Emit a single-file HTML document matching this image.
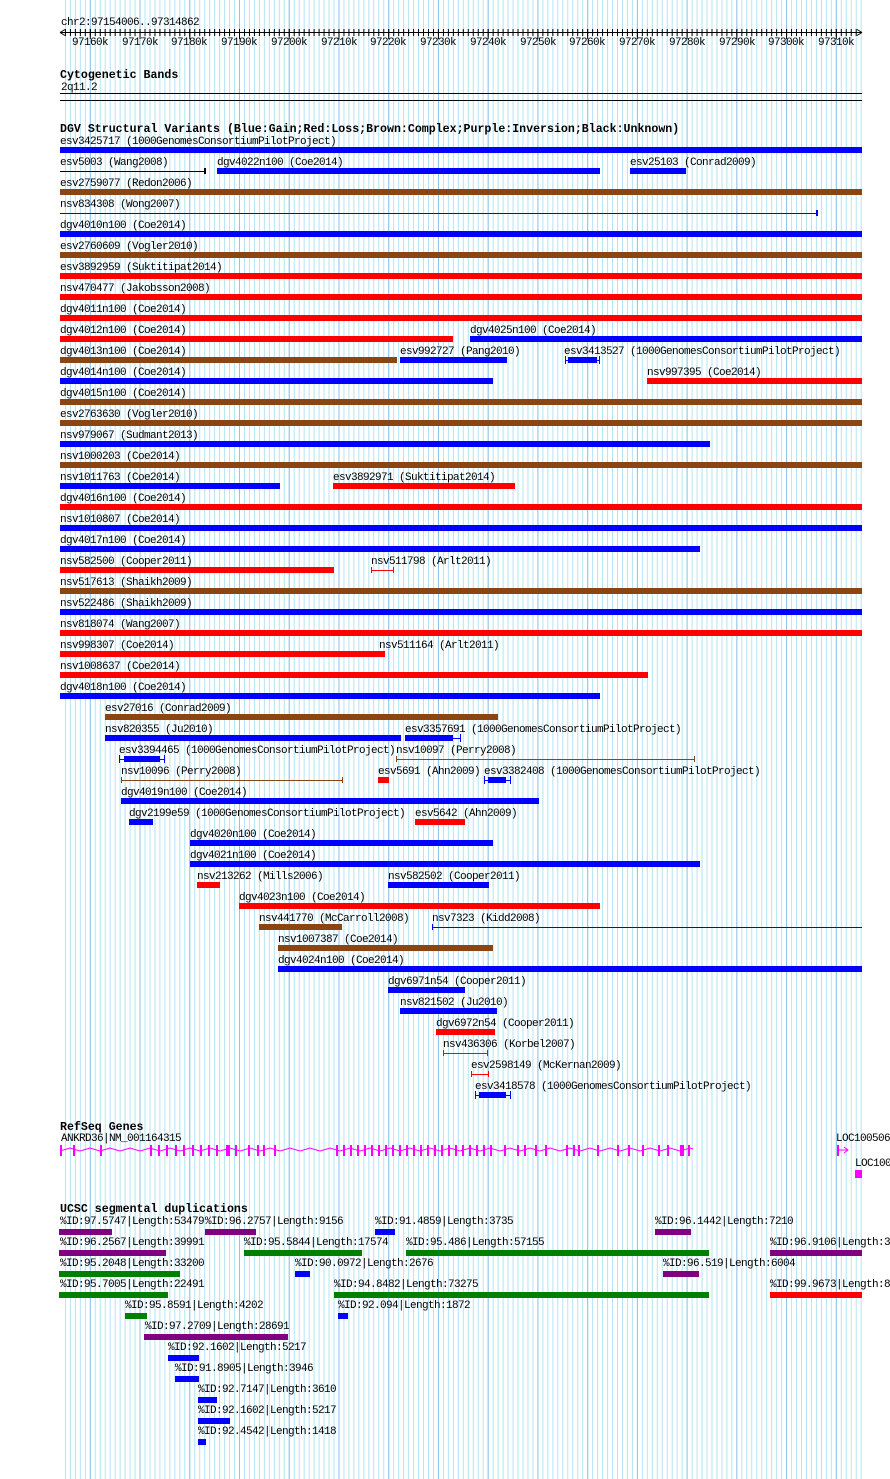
<!DOCTYPE html>
<html><head><meta charset="utf-8"><style>
html,body{margin:0;padding:0;background:#fff;}
svg{display:block;}
text{font-family:"Liberation Mono",monospace;font-size:11px;letter-spacing:-0.6px;fill:#000;}
.b{font-weight:bold;font-size:11.6px;letter-spacing:0;}
</style></head><body>
<svg width="890" height="1479" viewBox="0 0 890 1479" xmlns="http://www.w3.org/2000/svg">
<defs>
<pattern id="g1" x="64.94" y="0" width="4.9734" height="10" patternUnits="userSpaceOnUse"><rect x="0" y="0" width="1" height="10" fill="#b4e4f4"/></pattern>
<pattern id="g2" x="89.8" y="0" width="49.734" height="10" patternUnits="userSpaceOnUse"><rect x="0" y="0" width="1" height="10" fill="#8cc4ec"/></pattern>
<pattern id="tk" x="64.94" y="0" width="4.9734" height="60" patternUnits="userSpaceOnUse"><rect x="0" y="29" width="1" height="7" fill="#000"/></pattern>
<pattern id="tk2" x="89.8" y="0" width="49.734" height="60" patternUnits="userSpaceOnUse"><rect x="0" y="29" width="1" height="10" fill="#000"/></pattern>
<pattern id="zz" x="60" y="0" width="20" height="1200" patternUnits="userSpaceOnUse"><path d="M0 1151 L10 1148 L20 1151" stroke="#ff00ff" fill="none" stroke-width="1"/></pattern>
</defs>
<rect x="62" y="0" width="800" height="1479" fill="url(#g1)"/>
<rect x="62" y="0" width="800" height="1479" fill="url(#g2)"/>

<text x="61" y="25">chr2:97154006..97314862</text>
<rect x="60" y="32" width="802" height="1" fill="#000"/>
<rect x="62" y="0" width="798" height="60" fill="url(#tk)"/>
<rect x="62" y="0" width="798" height="60" fill="url(#tk2)"/>
<path d="M60 32.5 L65 29.5 M60 32.5 L65 35.5 M862 32.5 L857 29.5 M862 32.5 L857 35.5" stroke="#000"/>
<g text-anchor="middle">
<text x="90" y="45">97160k</text><text x="140" y="45">97170k</text><text x="189" y="45">97180k</text><text x="239" y="45">97190k</text><text x="289" y="45">97200k</text><text x="339" y="45">97210k</text><text x="388" y="45">97220k</text><text x="438" y="45">97230k</text><text x="488" y="45">97240k</text><text x="538" y="45">97250k</text><text x="587" y="45">97260k</text><text x="637" y="45">97270k</text><text x="687" y="45">97280k</text><text x="737" y="45">97290k</text><text x="786" y="45">97300k</text><text x="836" y="45">97310k</text>
</g>

<text class="b" x="60" y="78">Cytogenetic Bands</text>
<text x="61" y="90">2q11.2</text>
<rect x="60" y="93" width="802" height="1" fill="#000"/>
<rect x="60" y="100" width="802" height="1" fill="#000"/>

<text class="b" x="60" y="132">DGV Structural Variants (Blue:Gain;Red:Loss;Brown:Complex;Purple:Inversion;Black:Unknown)</text>
<g>
<text x="60" y="144">esv3425717 (1000GenomesConsortiumPilotProject)</text><rect x="60" y="147" width="802" height="6" fill="#0000ff"/>
<text x="60" y="165">esv5003 (Wang2008)</text><rect x="60" y="171" width="145" height="1" fill="#000"/><rect x="204" y="168" width="2" height="6" fill="#000"/>
<text x="217" y="165">dgv4022n100 (Coe2014)</text><rect x="217" y="168" width="383" height="6" fill="#0000ff"/>
<text x="630" y="165">esv25103 (Conrad2009)</text><rect x="630" y="168" width="56" height="6" fill="#0000ff"/>
<text x="60" y="186">esv2759077 (Redon2006)</text><rect x="60" y="189" width="802" height="6" fill="#8b4513"/>
<text x="60" y="207">nsv834308 (Wong2007)</text><rect x="60" y="213" width="757" height="1" fill="#0000ff"/><rect x="816" y="210" width="2" height="6" fill="#0000ff"/>
<text x="60" y="228">dgv4010n100 (Coe2014)</text><rect x="60" y="231" width="802" height="6" fill="#0000ff"/>
<text x="60" y="249">esv2760609 (Vogler2010)</text><rect x="60" y="252" width="802" height="6" fill="#8b4513"/>
<text x="60" y="270">esv3892959 (Suktitipat2014)</text><rect x="60" y="273" width="802" height="6" fill="#ff0000"/>
<text x="60" y="291">nsv470477 (Jakobsson2008)</text><rect x="60" y="294" width="802" height="6" fill="#ff0000"/>
<text x="60" y="312">dgv4011n100 (Coe2014)</text><rect x="60" y="315" width="802" height="6" fill="#ff0000"/>
<text x="60" y="333">dgv4012n100 (Coe2014)</text><rect x="60" y="336" width="393" height="6" fill="#ff0000"/>
<text x="470" y="333">dgv4025n100 (Coe2014)</text><rect x="470" y="336" width="392" height="6" fill="#0000ff"/>
<text x="60" y="354">dgv4013n100 (Coe2014)</text><rect x="60" y="357" width="337" height="6" fill="#8b4513"/>
<text x="400" y="354">esv992727 (Pang2010)</text><rect x="400" y="357" width="107" height="6" fill="#0000ff"/>
<text x="564" y="354">esv3413527 (1000GenomesConsortiumPilotProject)</text><rect x="565" y="360" width="35" height="1" fill="#0000ff"/><rect x="568" y="357" width="29" height="6" fill="#0000ff"/><rect x="565" y="356" width="1" height="8" fill="#0000ff"/><rect x="599" y="356" width="1" height="8" fill="#0000ff"/>
<text x="60" y="375">dgv4014n100 (Coe2014)</text><rect x="60" y="378" width="433" height="6" fill="#0000ff"/>
<text x="647" y="375">nsv997395 (Coe2014)</text><rect x="647" y="378" width="215" height="6" fill="#ff0000"/>
<text x="60" y="396">dgv4015n100 (Coe2014)</text><rect x="60" y="399" width="802" height="6" fill="#8b4513"/>
<text x="60" y="417">esv2763630 (Vogler2010)</text><rect x="60" y="420" width="802" height="6" fill="#8b4513"/>
<text x="60" y="438">nsv979067 (Sudmant2013)</text><rect x="60" y="441" width="650" height="6" fill="#0000ff"/>
<text x="60" y="459">nsv1000203 (Coe2014)</text><rect x="60" y="462" width="802" height="6" fill="#8b4513"/>
<text x="60" y="480">nsv1011763 (Coe2014)</text><rect x="60" y="483" width="220" height="6" fill="#0000ff"/>
<text x="333" y="480">esv3892971 (Suktitipat2014)</text><rect x="333" y="483" width="182" height="6" fill="#ff0000"/>
<text x="60" y="501">dgv4016n100 (Coe2014)</text><rect x="60" y="504" width="802" height="6" fill="#ff0000"/>
<text x="60" y="522">nsv1010807 (Coe2014)</text><rect x="60" y="525" width="802" height="6" fill="#0000ff"/>
<text x="60" y="543">dgv4017n100 (Coe2014)</text><rect x="60" y="546" width="640" height="6" fill="#0000ff"/>
<text x="60" y="564">nsv582500 (Cooper2011)</text><rect x="60" y="567" width="274" height="6" fill="#ff0000"/>
<text x="371" y="564">nsv511798 (Arlt2011)</text><rect x="371" y="570" width="23" height="1" fill="#ff0000"/><rect x="371" y="567" width="1" height="6" fill="#ff0000"/><rect x="393" y="567" width="1" height="6" fill="#ff0000"/>
<text x="60" y="585">nsv517613 (Shaikh2009)</text><rect x="60" y="588" width="802" height="6" fill="#8b4513"/>
<text x="60" y="606">nsv522486 (Shaikh2009)</text><rect x="60" y="609" width="802" height="6" fill="#0000ff"/>
<text x="60" y="627">nsv818074 (Wang2007)</text><rect x="60" y="630" width="802" height="6" fill="#ff0000"/>
<text x="60" y="648">nsv998307 (Coe2014)</text><rect x="60" y="651" width="323" height="6" fill="#ff0000"/>
<text x="379" y="648">nsv511164 (Arlt2011)</text><rect x="379" y="651" width="6" height="6" fill="#ff0000"/>
<text x="60" y="669">nsv1008637 (Coe2014)</text><rect x="60" y="672" width="588" height="6" fill="#ff0000"/>
<text x="60" y="690">dgv4018n100 (Coe2014)</text><rect x="60" y="693" width="540" height="6" fill="#0000ff"/>
<text x="105" y="711">esv27016 (Conrad2009)</text><rect x="105" y="714" width="393" height="6" fill="#8b4513"/>
<text x="105" y="732">nsv820355 (Ju2010)</text><rect x="105" y="735" width="296" height="6" fill="#0000ff"/>
<text x="405" y="732">esv3357691 (1000GenomesConsortiumPilotProject)</text><rect x="405" y="735" width="48" height="6" fill="#0000ff"/><rect x="405" y="738" width="56" height="1" fill="#0000ff"/><rect x="460" y="734" width="1" height="8" fill="#0000ff"/>
<text x="119" y="753">esv3394465 (1000GenomesConsortiumPilotProject)</text><rect x="124" y="756" width="36" height="6" fill="#0000ff"/><rect x="119" y="759" width="46" height="1" fill="#0000ff"/><rect x="119" y="755" width="1" height="8" fill="#0000ff"/><rect x="164" y="755" width="1" height="8" fill="#0000ff"/>
<text x="396" y="753">nsv10097 (Perry2008)</text><rect x="396" y="759" width="299" height="1" fill="#8b4513"/><rect x="396" y="756" width="1" height="6" fill="#8b4513"/><rect x="694" y="756" width="1" height="6" fill="#8b4513"/>
<text x="121" y="774">nsv10096 (Perry2008)</text><rect x="121" y="780" width="222" height="1" fill="#8b4513"/><rect x="121" y="777" width="1" height="6" fill="#8b4513"/><rect x="342" y="777" width="1" height="6" fill="#8b4513"/>
<text x="378" y="774">esv5691 (Ahn2009)</text><rect x="378" y="777" width="11" height="6" fill="#ff0000"/>
<text x="484" y="774">esv3382408 (1000GenomesConsortiumPilotProject)</text><rect x="488" y="777" width="18" height="6" fill="#0000ff"/><rect x="484" y="780" width="27" height="1" fill="#0000ff"/><rect x="484" y="776" width="1" height="8" fill="#0000ff"/><rect x="510" y="776" width="1" height="8" fill="#0000ff"/>
<text x="121" y="795">dgv4019n100 (Coe2014)</text><rect x="121" y="798" width="418" height="6" fill="#0000ff"/>
<text x="129" y="816">dgv2199e59 (1000GenomesConsortiumPilotProject)</text><rect x="129" y="819" width="24" height="6" fill="#0000ff"/>
<text x="415" y="816">esv5642 (Ahn2009)</text><rect x="415" y="819" width="50" height="6" fill="#ff0000"/>
<text x="190" y="837">dgv4020n100 (Coe2014)</text><rect x="190" y="840" width="303" height="6" fill="#0000ff"/>
<text x="190" y="858">dgv4021n100 (Coe2014)</text><rect x="190" y="861" width="510" height="6" fill="#0000ff"/>
<text x="197" y="879">nsv213262 (Mills2006)</text><rect x="197" y="882" width="23" height="6" fill="#ff0000"/>
<text x="388" y="879">nsv582502 (Cooper2011)</text><rect x="388" y="882" width="101" height="6" fill="#0000ff"/>
<text x="239" y="900">dgv4023n100 (Coe2014)</text><rect x="239" y="903" width="361" height="6" fill="#ff0000"/>
<text x="259" y="921">nsv441770 (McCarroll2008)</text><rect x="259" y="924" width="83" height="6" fill="#8b4513"/>
<text x="432" y="921">nsv7323 (Kidd2008)</text><rect x="432" y="927" width="430" height="1" fill="#0000ff"/><rect x="432" y="924" width="1" height="6" fill="#0000ff"/>
<text x="278" y="942">nsv1007387 (Coe2014)</text><rect x="278" y="945" width="215" height="6" fill="#8b4513"/>
<text x="278" y="963">dgv4024n100 (Coe2014)</text><rect x="278" y="966" width="584" height="6" fill="#0000ff"/>
<text x="388" y="984">dgv6971n54 (Cooper2011)</text><rect x="388" y="987" width="77" height="6" fill="#0000ff"/>
<text x="400" y="1005">nsv821502 (Ju2010)</text><rect x="400" y="1008" width="97" height="6" fill="#0000ff"/>
<text x="436" y="1026">dgv6972n54 (Cooper2011)</text><rect x="436" y="1029" width="59" height="6" fill="#ff0000"/>
<text x="443" y="1047">nsv436306 (Korbel2007)</text><rect x="443" y="1053" width="45" height="1" fill="#ff0000"/><rect x="443" y="1050" width="1" height="6" fill="#ff0000"/><rect x="487" y="1050" width="1" height="6" fill="#ff0000"/>
<text x="471" y="1068">esv2598149 (McKernan2009)</text><rect x="471" y="1074" width="18" height="1" fill="#ff0000"/><rect x="471" y="1071" width="1" height="6" fill="#ff0000"/><rect x="488" y="1071" width="1" height="6" fill="#ff0000"/>
<text x="475" y="1089">esv3418578 (1000GenomesConsortiumPilotProject)</text><rect x="479" y="1092" width="27" height="6" fill="#0000ff"/><rect x="475" y="1095" width="36" height="1" fill="#0000ff"/><rect x="475" y="1091" width="1" height="8" fill="#0000ff"/><rect x="510" y="1091" width="1" height="8" fill="#0000ff"/>
</g>

<text class="b" x="60" y="1130">RefSeq Genes</text>
<text x="61" y="1141">ANKRD36|NM_001164315</text>
<rect x="60" y="1140" width="633" height="14" fill="url(#zz)"/>
<g fill="#ff00ff">
<rect x="60" y="1145" width="2" height="11"/><rect x="73" y="1145" width="2" height="11"/><rect x="100" y="1145" width="2" height="11"/>
<rect x="150" y="1145" width="2" height="11"/><rect x="158" y="1145" width="2" height="11"/><rect x="166" y="1145" width="2" height="11"/><rect x="175" y="1145" width="2" height="11"/><rect x="183" y="1145" width="2" height="11"/><rect x="192" y="1145" width="2" height="11"/><rect x="200" y="1145" width="2" height="11"/><rect x="208" y="1145" width="2" height="11"/><rect x="216" y="1145" width="2" height="11"/><rect x="226" y="1145" width="4" height="11"/><rect x="235" y="1145" width="2" height="11"/><rect x="248" y="1145" width="2" height="11"/><rect x="257" y="1145" width="2" height="11"/><rect x="263" y="1145" width="2" height="11"/><rect x="274" y="1145" width="2" height="11"/>
<rect x="336" y="1145" width="2" height="11"/><rect x="343" y="1145" width="2" height="11"/><rect x="350" y="1145" width="2" height="11"/><rect x="357" y="1145" width="2" height="11"/><rect x="364" y="1145" width="2" height="11"/><rect x="371" y="1145" width="2" height="11"/><rect x="378" y="1145" width="2" height="11"/><rect x="385" y="1145" width="2" height="11"/><rect x="392" y="1145" width="2" height="11"/><rect x="399" y="1145" width="2" height="11"/><rect x="406" y="1145" width="2" height="11"/><rect x="413" y="1145" width="2" height="11"/><rect x="420" y="1145" width="2" height="11"/><rect x="427" y="1145" width="2" height="11"/><rect x="434" y="1145" width="2" height="11"/><rect x="441" y="1145" width="2" height="11"/><rect x="448" y="1145" width="2" height="11"/><rect x="455" y="1145" width="2" height="11"/><rect x="462" y="1145" width="2" height="11"/><rect x="469" y="1145" width="2" height="11"/><rect x="476" y="1145" width="2" height="11"/><rect x="483" y="1145" width="2" height="11"/><rect x="490" y="1145" width="2" height="11"/>
<rect x="504" y="1145" width="2" height="11"/><rect x="517" y="1145" width="2" height="11"/><rect x="524" y="1145" width="2" height="11"/><rect x="535" y="1145" width="2" height="11"/><rect x="545" y="1145" width="2" height="11"/><rect x="566" y="1145" width="2" height="11"/><rect x="573" y="1145" width="2" height="11"/><rect x="578" y="1145" width="2" height="11"/><rect x="597" y="1145" width="2" height="11"/><rect x="617" y="1145" width="2" height="11"/><rect x="628" y="1145" width="2" height="11"/><rect x="642" y="1145" width="2" height="11"/><rect x="658" y="1145" width="2" height="11"/><rect x="667" y="1145" width="2" height="11"/><rect x="680" y="1145" width="4" height="11"/><rect x="688" y="1145" width="2" height="11"/>
<rect x="837" y="1145" width="2" height="11"/><path d="M839 1150 L848 1150 M844 1147 L848 1150 L844 1153" stroke="#ff00ff" fill="none"/>
<rect x="855" y="1170" width="7" height="8"/>
</g>
<text x="836" y="1141">LOC100506</text>
<text x="855" y="1166">LOC100</text>

<text class="b" x="60" y="1212">UCSC segmental duplications</text>
<text x="60" y="1224">%ID:97.5747|Length:53479</text><rect x="59" y="1229" width="53" height="6" fill="#800080"/>
<text x="205" y="1224">%ID:96.2757|Length:9156</text><rect x="205" y="1229" width="51" height="6" fill="#800080"/>
<text x="375" y="1224">%ID:91.4859|Length:3735</text><rect x="375" y="1229" width="20" height="6" fill="#0000ff"/>
<text x="655" y="1224">%ID:96.1442|Length:7210</text><rect x="655" y="1229" width="36" height="6" fill="#800080"/>
<text x="60" y="1245">%ID:96.2567|Length:39991</text><rect x="59" y="1250" width="107" height="6" fill="#800080"/>
<text x="244" y="1245">%ID:95.5844|Length:17574</text><rect x="244" y="1250" width="118" height="6" fill="#008000"/>
<text x="406" y="1245">%ID:95.486|Length:57155</text><rect x="406" y="1250" width="303" height="6" fill="#008000"/>
<text x="770" y="1245">%ID:96.9106|Length:3</text><rect x="770" y="1250" width="92" height="6" fill="#800080"/>
<text x="60" y="1266">%ID:95.2048|Length:33200</text><rect x="59" y="1271" width="121" height="6" fill="#008000"/>
<text x="295" y="1266">%ID:90.0972|Length:2676</text><rect x="295" y="1271" width="15" height="6" fill="#0000ff"/>
<text x="663" y="1266">%ID:96.519|Length:6004</text><rect x="663" y="1271" width="36" height="6" fill="#800080"/>
<text x="60" y="1287">%ID:95.7005|Length:22491</text><rect x="59" y="1292" width="109" height="6" fill="#008000"/>
<text x="334" y="1287">%ID:94.8482|Length:73275</text><rect x="334" y="1292" width="375" height="6" fill="#008000"/>
<text x="770" y="1287">%ID:99.9673|Length:8</text><rect x="770" y="1292" width="92" height="6" fill="#ff0000"/>
<text x="125" y="1308">%ID:95.8591|Length:4202</text><rect x="125" y="1313" width="22" height="6" fill="#008000"/>
<text x="338" y="1308">%ID:92.094|Length:1872</text><rect x="338" y="1313" width="10" height="6" fill="#0000ff"/>
<text x="145" y="1329">%ID:97.2709|Length:28691</text><rect x="144" y="1334" width="144" height="6" fill="#800080"/>
<text x="168" y="1350">%ID:92.1602|Length:5217</text><rect x="168" y="1355" width="31" height="6" fill="#0000ff"/>
<text x="175" y="1371">%ID:91.8905|Length:3946</text><rect x="175" y="1376" width="24" height="6" fill="#0000ff"/>
<text x="198" y="1392">%ID:92.7147|Length:3610</text><rect x="198" y="1397" width="19" height="6" fill="#0000ff"/>
<text x="198" y="1413">%ID:92.1602|Length:5217</text><rect x="198" y="1418" width="32" height="6" fill="#0000ff"/>
<text x="198" y="1434">%ID:92.4542|Length:1418</text><rect x="198" y="1439" width="8" height="6" fill="#0000ff"/>
</svg>
</body></html>
